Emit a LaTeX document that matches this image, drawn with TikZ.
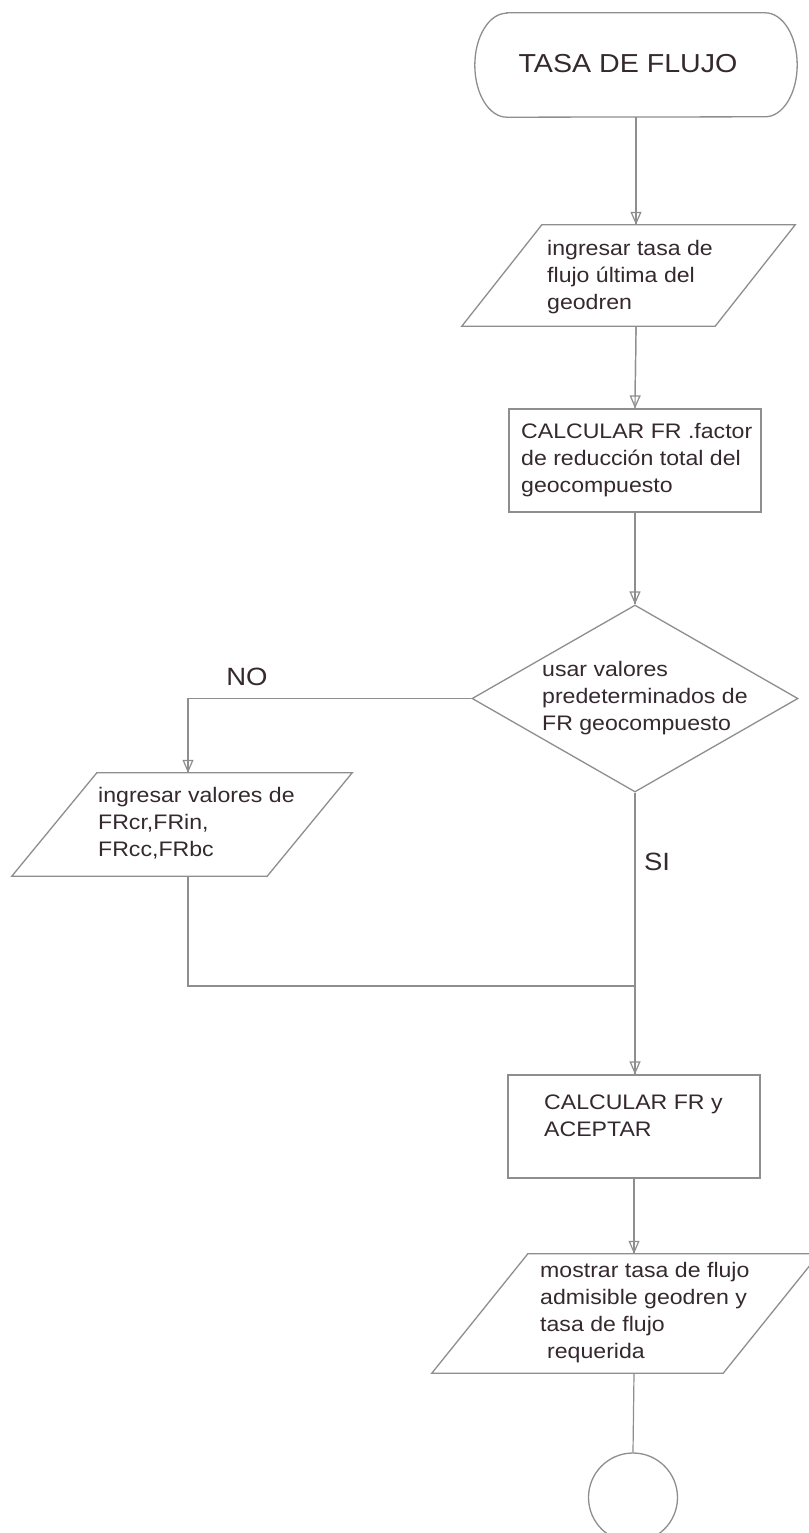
\documentclass[tikz,border=0pt]{standalone}
\usepackage{fontspec}
\setmainfont{Liberation Sans}[FakeStretch=1.1]
\usetikzlibrary{shapes.geometric,arrows.meta}

\definecolor{ink}{HTML}{35292F}
\definecolor{rule}{HTML}{8E8E8E}

\tikzset{
  shapeline/.style={draw=rule, line width=1.3pt},
  % multi-line text: the base anchor sits on the last line
  body/.style={font=\fontsize{21}{27}\selectfont, text=ink, align=left,
    inner sep=0pt, anchor=base west},
  tag/.style={font=\fontsize{25}{30}\selectfont, text=ink, inner sep=0pt},
  link/.style={draw=rule, line width=1.2pt},
  flow/.style={link, postaction={draw=rule, line width=1.2pt,
    -{Triangle[open, length=13pt, width=11pt]}}},
  procbox/.style={shapeline, rectangle, minimum width=252pt,
    minimum height=103pt, inner sep=0pt},
  iocore/.style={rectangle, inner sep=0pt},
}

\begin{document}
\begin{tikzpicture}[x=1pt,y=-1pt]
\fill[white] (0,0) rectangle (808,1533);
\useasboundingbox (0,0) rectangle (808,1533);

% start terminator
\node[rectangle, inner sep=0pt, minimum width=322pt, minimum height=104pt] (start) at (636,65) {};
\draw[shapeline] ([xshift=32pt]start.north west) -- ([xshift=-32pt]start.north east)
  arc[start angle=90, end angle=-90, x radius=32pt, y radius=52pt]
  -- ([xshift=32pt]start.south west)
  arc[start angle=270, end angle=90, x radius=32pt, y radius=52pt] -- cycle;
\node[font=\fontsize{26}{30}\selectfont, text=ink, inner sep=0pt] (tstart) at (628,64) {TASA DE FLUJO};

% input: ultimate flow rate
\node[iocore, minimum width=253pt, minimum height=101pt] (p1) at (628.5,275.5) {};
\draw[shapeline] ([xshift=40pt]p1.north west) -- ([xshift=40pt]p1.north east)
  -- ([xshift=-40pt]p1.south east) -- ([xshift=-40pt]p1.south west) -- cycle;
\node[body] (t1) at (547,309) {ingresar tasa de\\flujo última del\\geodren};

% total reduction factor
\node[procbox] (r1) at (635,460.5) {};
\node[body] (t2) at (521,492) {CALCULAR FR .factor\\de reducción total del\\geocompuesto};

% decision
\node[shapeline, diamond, minimum width=326pt, minimum height=187pt,
  inner sep=0pt] (d1) at (635,698.5) {};
\node[body] (t3) at (542,730) {usar valores\\predeterminados de\\FR geocompuesto};

% input: individual factors
\node[iocore, minimum width=255pt, minimum height=103pt] (p2) at (182,824.5) {};
\draw[shapeline] ([xshift=42.5pt]p2.north west) -- ([xshift=42.5pt]p2.north east)
  -- ([xshift=-42.5pt]p2.south east) -- ([xshift=-42.5pt]p2.south west) -- cycle;
\node[body] (t4) at (98,856) {ingresar valores de\\FRcr,FRin,\\FRcc,FRbc};

% compute and accept
\node[procbox] (r2) at (634,1126.5) {};
\node[body] (t5) at (544,1136) {CALCULAR FR y\\ACEPTAR};

% output
\node[iocore, minimum width=291pt, minimum height=119pt] (p3) at (625.5,1313.5) {};
\draw[shapeline] ([xshift=48pt]p3.north west) -- ([xshift=48pt]p3.north east)
  -- ([xshift=-48pt]p3.south east) -- ([xshift=-48pt]p3.south west) -- cycle;
\node[body] (t6) at (540,1358) {mostrar tasa de flujo\\admisible geodren y\\tasa de flujo\\\hspace*{7pt}requerida};

% end connector
\node[shapeline, circle, minimum size=89pt, inner sep=0pt] (end) at (633,1497.5) {};

% branch labels
\node[tag] (no) at (247,677) {NO};
\node[tag] (si) at (657,862) {SI};

% connectors
\coordinate (merge) at (634,986);
\draw[flow] (start.south) -- (start.south |- p1.north);
\draw[flow] (start.south |- p1.south) -- (r1.north);
\draw[flow] (r1.south) -- (d1.north);
\draw[flow] (d1.west) -| ([xshift=6pt]p2.north);
\draw[link] ([xshift=6pt]p2.south) |- (merge);
\draw[flow] (d1.south) -- (d1.south |- r2.north);
\draw[flow] (r2.south) -- (r2.south |- p3.north);
\draw[link] (r2.south |- p3.south) -- (end.north);
\end{tikzpicture}
\end{document}
